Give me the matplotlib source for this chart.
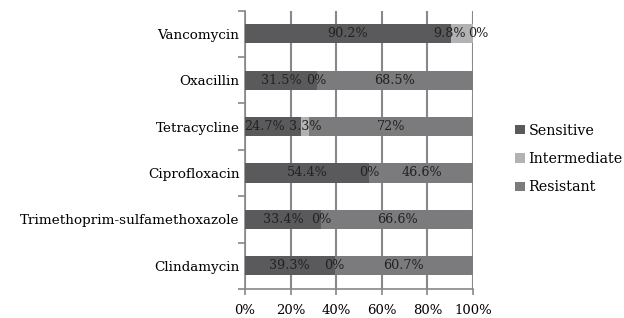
import matplotlib
matplotlib.use("Agg")
import matplotlib.pyplot as plt
import numpy as np

drugs = ["Vancomycin", "Oxacillin", "Tetracycline", "Ciprofloxacin",
         "Trimethoprim-sulfamethoxazole", "Clindamycin"]
sensitive = [90.2, 31.5, 24.7, 54.4, 33.4, 39.3]
intermediate = [9.8, 0, 3.3, 0, 0, 0]
resistant = [0, 68.5, 72, 46.6, 66.6, 60.7]
series_names = ["Sensitive", "Intermediate", "Resistant"]
colors = ["#5a5a5d", "#b2b2b4", "#7b7b7e"]

# small nudges for crowded labels (drug index, series index) -> dx in points
nudge = {(0, 1): -9, (0, 2): 4, (2, 0): -6}

plt.rcParams['font.family'] = ['DejaVu Serif']
fig = plt.figure(figsize=(6.24, 3.18), dpi=100)
ax = fig.add_axes([0.3926, 0.0912, 0.3654, 0.8755])

y = np.arange(len(drugs))[::-1]
left = np.zeros(len(drugs))
for s, (vals, col, name) in enumerate(zip([sensitive, intermediate, resistant], colors, series_names)):
    vals = np.array(vals, dtype=float)
    ax.barh(y, vals, left=left, height=0.41, color=col, label=name, zorder=3)
    for i, v in enumerate(vals):
        cx = left[i] + v / 2
        txt = f"{v:g}%"
        ax.annotate(txt, (cx, y[i]), xytext=(nudge.get((i, s), 0), 0),
                    textcoords="offset points", ha="center", va="center",
                    fontsize=9.2, color="#222222", zorder=4)
    left += vals

ax.set_xlim(0, 100)
ax.set_ylim(-0.5, len(drugs) - 0.5)
ax.set_xticks(np.arange(0, 101, 20))
ax.set_xticklabels([f"{t}%" for t in range(0, 101, 20)], fontsize=9.5)
ax.set_yticks(np.arange(-0.5, len(drugs), 1.0))
ax.set_yticklabels([])
ax.set_yticks(y, minor=True)
ax.set_yticklabels(drugs, minor=True, fontsize=9.7)
ax.tick_params(axis='y', which='minor', length=0, pad=4)
ax.tick_params(axis='y', which='major', length=5, color="#888888", width=1.2)
ax.tick_params(axis='x', length=4, color="#888888", width=1.2, pad=7)
ax.grid(axis='x', color="#888888", linewidth=1.5, zorder=0)
for sp in ["top", "right"]:
    ax.spines[sp].set_visible(False)
for sp in ["left", "bottom"]:
    ax.spines[sp].set_color("#888888")
    ax.spines[sp].set_linewidth(1.2)

fig.legend(loc="center left", bbox_to_anchor=(0.826, 0.5), frameon=False,
           fontsize=10.3, handlelength=0.65, handleheight=0.65, handletextpad=0.25,
           labelspacing=1.0, borderaxespad=0, borderpad=0)

fig.savefig("out.png", dpi=100)
